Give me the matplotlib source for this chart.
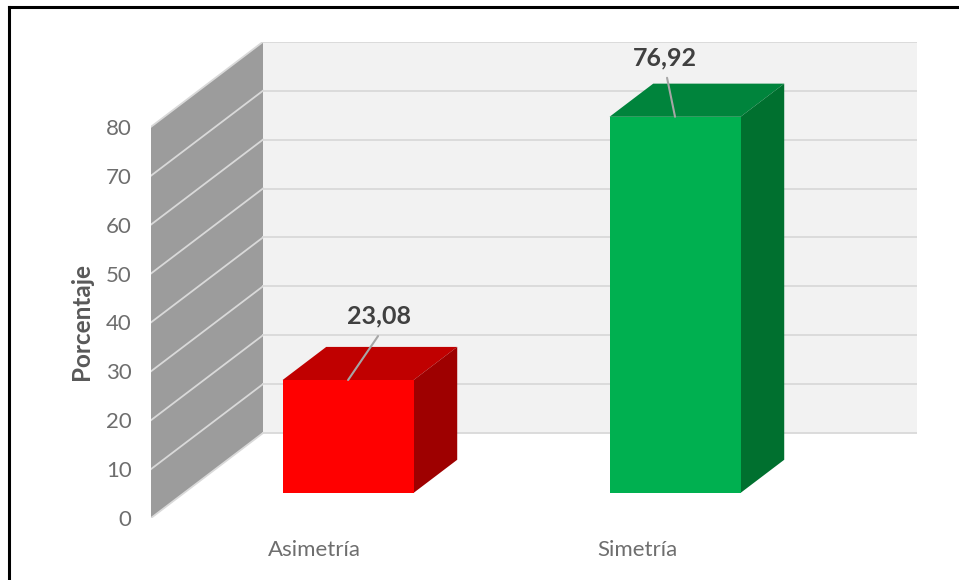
import matplotlib
matplotlib.use("Agg")
import matplotlib.pyplot as plt
from matplotlib.lines import Line2D
from matplotlib.patches import Polygon

plt.rcParams["font.family"] = ["Lato", "DejaVu Sans"]

categories = ["Asimetría", "Simetría"]
values = [23.08, 76.92]
value_labels = ["23,08", "76,92"]
yticks = [0, 10, 20, 30, 40, 50, 60, 70, 80]

front_colors = ["#ff0000", "#00b050"]
top_colors = ["#c00000", "#00843c"]
side_colors = ["#9e0000", "#00702f"]

W, H = 959, 580
# pixel geometry of the plot box in the picture
left, right, bottom, top = 151, 917, 518, 42
px_per_pct = 4.89
px_per_cat = 327.0
x0_px = 315.0

# depth of the fake 3d room, in data units
depth_x = 112 / px_per_cat
depth_y = 85 / px_per_pct
bar_front, bar_back = 0.295, 0.685
bar_width = 131 / px_per_cat


def proj(x, y, d):
    return x + d * depth_x, y + d * depth_y


fig = plt.figure(figsize=(W / 100, H / 100), dpi=100)
ax = fig.add_axes([left / W, 1 - bottom / H, (right - left) / W, (bottom - top) / H])
ax.set_xlim((left - x0_px) / px_per_cat, (right - x0_px) / px_per_cat)
ax.set_ylim(0, (bottom - top) / px_per_pct)
ax.patch.set_visible(False)
for s in ax.spines.values():
    s.set_visible(False)

xmin = ax.get_xlim()[0]
xmax = ax.get_xlim()[1]
ymax = yticks[-1]

# back wall and side wall
ax.add_patch(Polygon([proj(xmin, 0, 1), (xmax, depth_y), (xmax, ymax + depth_y), proj(xmin, ymax, 1)],
                     color="#f2f2f2", lw=0, zorder=1))
ax.add_patch(Polygon([proj(xmin, 0, 0), proj(xmin, 0, 1), proj(xmin, ymax, 1), proj(xmin, ymax, 0)],
                     color="#9c9c9c", lw=0, zorder=1))

for t in yticks:
    a = proj(xmin, t, 0)
    b = proj(xmin, t, 1)
    ax.plot([a[0], b[0]], [a[1], b[1]], color="#d9d9d9", lw=1.3, zorder=2)
    ax.plot([b[0], xmax], [b[1], b[1]], color="#d9d9d9", lw=1.3, zorder=2)

for i, v in enumerate(values):
    x1 = i - bar_width / 2
    x2 = i + bar_width / 2
    fl = proj(x1, 0, bar_front)
    fr = proj(x2, 0, bar_front)
    bl = proj(x1, 0, bar_back)
    br = proj(x2, 0, bar_back)
    # front face
    ax.add_patch(Polygon([fl, fr, (fr[0], fr[1] + v), (fl[0], fl[1] + v)],
                         color=front_colors[i], lw=0, zorder=4))
    # top face
    ax.add_patch(Polygon([(fl[0], fl[1] + v), (fr[0], fr[1] + v), (br[0], br[1] + v), (bl[0], bl[1] + v)],
                         color=top_colors[i], lw=0, zorder=3))
    # right face
    ax.add_patch(Polygon([fr, br, (br[0], br[1] + v), (fr[0], fr[1] + v)],
                         color=side_colors[i], lw=0, zorder=3))

# leader lines and data labels, offsets in pixels from the bar's front top edge
leader_offsets = [(30, 44), (-8, 39)]
label_offsets = [(31, 64), (-10, 59)]
for i, v in enumerate(values):
    xc = i + bar_front * depth_x
    yc = v + bar_front * depth_y
    ax.annotate("", xy=(xc, yc), xytext=leader_offsets[i], textcoords="offset pixels",
                arrowprops=dict(arrowstyle="-", color="#a6a6a6", lw=1.5, shrinkA=0, shrinkB=0),
                zorder=6)
    ax.annotate(value_labels[i], xy=(xc, yc), xytext=label_offsets[i], textcoords="offset pixels",
                ha="center", va="center", fontsize=18, fontweight="bold", color="#404040", zorder=6)

ax.set_yticks(yticks)
ax.set_xticks([-0.003, 0.986])
ax.set_xticklabels(categories)
ax.tick_params(axis="y", length=0, pad=14, labelsize=16, labelcolor="#6e6e6e")
ax.tick_params(axis="x", length=0, pad=16, labelsize=16, labelcolor="#6e6e6e")

ax.set_ylabel("Porcentaje", fontsize=17.5, fontweight="bold", color="#595959")
ax.yaxis.set_label_coords((93 - left) / (right - left), (bottom - 322) / (bottom - top))

# picture frame: only the top and left edges are visible
fig.add_artist(Line2D([8.5 / W, 8.5 / W], [0, 1 - 6.5 / H], color="black", lw=2.2))
fig.add_artist(Line2D([8.5 / W, 1], [1 - 6.5 / H, 1 - 6.5 / H], color="black", lw=2.2))

fig.savefig("out.png", dpi=100)
